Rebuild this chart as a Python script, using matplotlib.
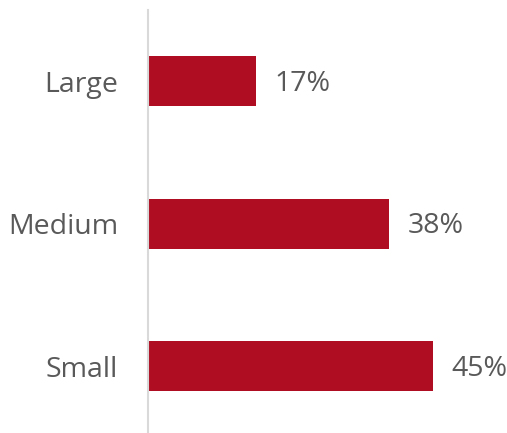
import matplotlib
matplotlib.use("Agg")
import matplotlib.pyplot as plt

categories = ["Small", "Medium", "Large"]
values = [45, 38, 17]
labels = ["45%", "38%", "17%"]

bar_color = "#AF0E22"
text_color = "#595959"

fig = plt.figure(figsize=(5.07, 4.33), dpi=100)
ax = fig.add_axes([148/507, 0.0, 359/507, 423/433])
ypos = list(range(len(categories)))
ax.barh(ypos, values, height=0.35, color=bar_color)
ax.set_xlim(0, 56.6)
ax.set_ylim(-0.47, 2.5)
ax.set_yticks(ypos)
ax.set_yticklabels(categories, fontsize=20.5, color=text_color, family="Open Sans")
ax.tick_params(axis="y", length=0, pad=21.5)
ax.set_xticks([])
for s in ["top", "right", "bottom"]:
    ax.spines[s].set_visible(False)
ax.spines["left"].set_color("#D9D9D9")
ax.spines["left"].set_linewidth(1.5)
for y, v, t in zip(ypos, values, labels):
    ax.text(v + 2.9, y - 0.02, t, va="center", ha="left", fontsize=20.5, color=text_color, family="Open Sans")
fig.savefig("out.png", dpi=100)
